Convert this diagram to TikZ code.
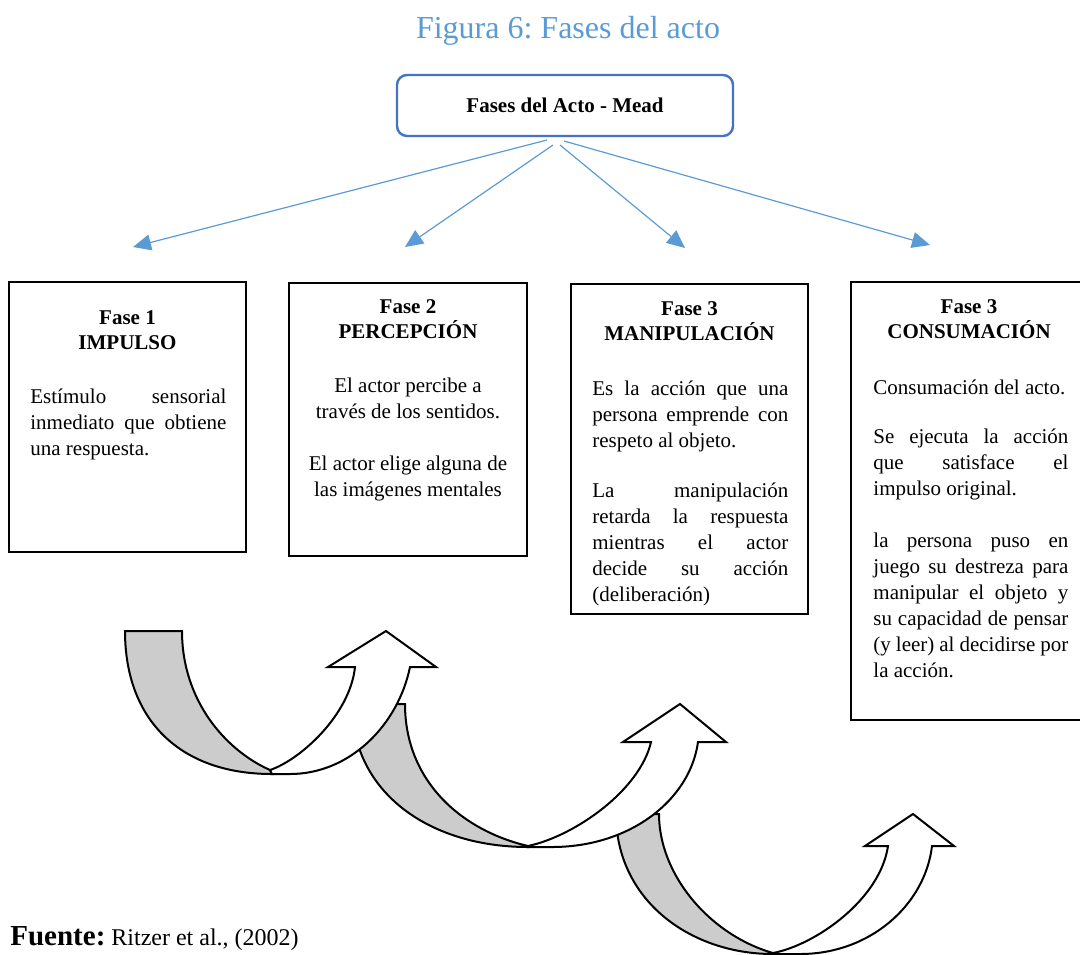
\documentclass[tikz,border=0pt]{standalone}
\usepackage{fontspec}
\setmainfont{Liberation Serif}
\usetikzlibrary{arrows.meta}
\definecolor{tblue}{HTML}{5B9BD5}
\definecolor{bblue}{HTML}{4472C4}
\definecolor{agray}{HTML}{CCCCCC}
\newcommand{\jl}[1]{\makebox[\linewidth][s]{#1}}
\frenchspacing
\begin{document}
\begin{tikzpicture}[x=0.5pt,y=-0.5pt,
  conn/.style={draw=tblue, line width=0.6pt, -{Triangle[length=9pt,width=8pt]}},
  phase/.style={draw=black, line width=1pt, inner sep=0pt},
  head/.style={inner sep=0pt, anchor=base, font=\bfseries\fontsize{10.5pt}{12.5pt}\selectfont},
  body/.style={inner sep=0pt, anchor=base west, font=\fontsize{10.5pt}{13pt}\selectfont},
  gshape/.style={draw=black, line width=1pt, fill=agray, line join=miter},
  wshape/.style={draw=black, line width=1pt, fill=white, line join=miter}]
\useasboundingbox (0,0) rectangle (1080,954);

% title
\node[anchor=base, text=tblue, font=\fontsize{16pt}{20pt}\selectfont, inner sep=0pt] (title) at (568,38) {Figura 6: Fases del acto};

% top box
\node[draw=bblue, line width=1.2pt, rounded corners=5pt, minimum width=168pt, minimum height=30.5pt, inner sep=0pt, font=\bfseries\fontsize{10.5pt}{12.5pt}\selectfont] (top) at (565,105.5) {Fases del Acto - Mead};

% connectors
\coordinate (s1) at (547,140);
\coordinate (s2) at (553,145);
\coordinate (s3) at (560,145);
\coordinate (s4) at (564,141);
\coordinate (t1) at (133,247);
\coordinate (t2) at (405,247);
\coordinate (t3) at (685,248);
\coordinate (t4) at (930,245);
\draw[conn] (s1) -- (t1);
\draw[conn] (s2) -- (t2);
\draw[conn] (s3) -- (t3);
\draw[conn] (s4) -- (t4);

% phase boxes
\node[phase, minimum width=118.5pt, minimum height=135pt] (b1) at (127.5,417) {};
\node[phase, minimum width=119pt, minimum height=136.5pt] (b2) at (408,419.5) {};
\node[phase, minimum width=118.5pt, minimum height=165pt] (b3) at (689.5,449) {};
\node[phase, minimum width=119pt, minimum height=219pt] (b4) at (970,501) {};

% box 1
\node[head] (h1) at (127.5,324) {\parbox[t]{110pt}{\centering Fase 1\\IMPULSO}};
\node[body] (p1) at (30,403) {\parbox[t]{98pt}{\jl{Estímulo sensorial}\\\jl{inmediato que obtiene}\\una respuesta.}};

% box 2
\node[head] (h2) at (408,313) {\parbox[t]{110pt}{\centering Fase 2\\PERCEPCIÓN}};
\node[body, anchor=base] (p2) at (408,392) {\parbox[t]{110pt}{\centering El actor percibe a\\través de los sentidos.\\[13pt]El actor elige alguna de\\las imágenes mentales}};

% box 3
\node[head] (h3) at (689.5,315) {\parbox[t]{110pt}{\centering Fase 3\\MANIPULACIÓN}};
\node[body] (p3) at (592,395) {\parbox[t]{98pt}{\jl{Es la acción que una}\\\jl{persona emprende con}\\respeto al objeto.\\[12pt]\jl{La manipulación}\\\jl{retarda la respuesta}\\\jl{mientras el actor}\\\jl{decide su acción}\\(deliberación)}};

% box 4
\node[head] (h4) at (969,313) {\parbox[t]{110pt}{\centering Fase 3\\CONSUMACIÓN}};
\node[body] (p4) at (873,394) {\parbox[t]{97.5pt}{Consumación del acto.\\[11.5pt]\jl{Se ejecuta la acción}\\\jl{que satisface el}\\impulso original.\\[13pt]\jl{la persona puso en}\\\jl{juego su destreza para}\\\jl{manipular el objeto y}\\\jl{su capacidad de pensar}\\\jl{(y leer) al decidirse por}\\la acción.}};

% curved up arrows (drawn back to front)
% arrow 3
\path[gshape] (616,814) -- (659,814) .. controls (659,875) and (710,935) .. (773,953) -- (773,954) .. controls (690,954) and (616,900) .. (616,814) -- cycle;
\path[wshape] (773,953) .. controls (815,945) and (880,900) .. (888,846) -- (865,846) -- (913,814) -- (954,846) -- (932,846) .. controls (925,905) and (870,954) .. (800,954) -- (773,954) -- cycle;
% arrow 2
\path[gshape] (352,704) -- (405,704) .. controls (405,780) and (460,830) .. (528,846) -- (528,847) .. controls (430,847) and (352,793) .. (352,704) -- cycle;
\path[wshape] (528,846) .. controls (575,836) and (640,790) .. (651,742) -- (623,742) -- (680,704) -- (726,742) -- (698,742) .. controls (690,800) and (630,847) .. (552,847) -- (528,847) -- cycle;
% arrow 1
\path[gshape] (125,631) -- (182,631) .. controls (182,700) and (225,750) .. (270,770) -- (272,774) .. controls (180,774) and (125,720) .. (125,631) -- cycle;
\path[wshape] (270,770) .. controls (300,760) and (350,715) .. (355,667) -- (328,667) -- (386,631) -- (436,667) -- (410,667) .. controls (398,725) and (350,774) .. (290,774) -- (272,774) -- cycle;

% source
\node[anchor=base west, inner sep=0pt, font=\fontsize{12pt}{15pt}\selectfont] (src) at (10,945) {{\fontsize{14.5pt}{15pt}\selectfont\bfseries Fuente:} Ritzer et al., (2002)};
\end{tikzpicture}
\end{document}
